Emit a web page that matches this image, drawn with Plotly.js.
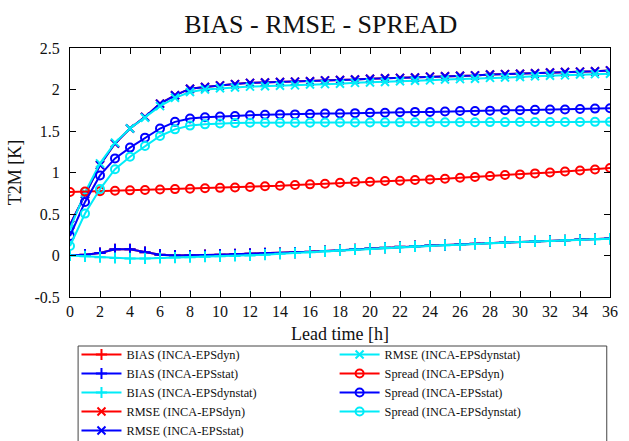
<!DOCTYPE html>
<html>
<head>
<meta charset="utf-8">
<script src="https://cdn.plot.ly/plotly-3.0.1.min.js"></script>
<style>html,body{margin:0;padding:0;background:#fff;}#chart{width:629px;height:441px;}</style>
</head>
<body>
<div id="chart"></div>
<script>
const hours = [0,1,2,3,4,5,6,7,8,9,10,11,12,13,14,15,16,17,18,19,20,21,22,23,24,25,26,27,28,29,30,31,32,33,34,35,36];

const biasStat = [0.005,0.01,0.03,0.075,0.075,0.04,0.01,0.0,0.0,0.005,0.01,0.015,0.02,0.025,0.03,0.035,0.044,0.054,0.064,0.074,0.084,0.094,0.104,0.112,0.12,0.126,0.132,0.142,0.152,0.158,0.164,0.17,0.176,0.184,0.192,0.198,0.204];
const biasDyn = [0.005,0.01,0.03,0.075,0.075,0.04,0.01,0.0,0.0,0.005,0.01,0.015,0.02,0.025,0.03,0.035,0.044,0.054,0.064,0.074,0.084,0.094,0.104,0.112,0.12,0.126,0.132,0.142,0.152,0.158,0.164,0.17,0.176,0.184,0.192,0.198,0.204];
const biasDynstat = [0.0,-0.01,-0.02,-0.03,-0.035,-0.035,-0.03,-0.025,-0.02,-0.015,-0.01,-0.005,0.0,0.01,0.02,0.03,0.04,0.05,0.062,0.072,0.082,0.092,0.102,0.11,0.118,0.125,0.131,0.14,0.15,0.157,0.163,0.169,0.175,0.183,0.19,0.197,0.203];

const rmseStat = [0.37,0.74,1.09,1.35,1.53,1.67,1.83,1.93,2.01,2.03,2.05,2.065,2.08,2.085,2.09,2.095,2.10,2.11,2.115,2.12,2.13,2.135,2.14,2.145,2.155,2.16,2.165,2.17,2.18,2.185,2.19,2.195,2.205,2.21,2.215,2.22,2.23];
const rmseDyn = [0.37,0.74,1.09,1.35,1.53,1.67,1.83,1.93,2.01,2.03,2.05,2.065,2.08,2.085,2.09,2.095,2.10,2.11,2.115,2.12,2.13,2.135,2.14,2.145,2.155,2.16,2.165,2.17,2.18,2.185,2.19,2.195,2.205,2.21,2.215,2.22,2.23];
const rmseDynstat = [0.32,0.76,1.11,1.36,1.53,1.66,1.80,1.90,1.97,2.00,2.015,2.025,2.035,2.04,2.045,2.05,2.06,2.065,2.07,2.08,2.085,2.09,2.10,2.105,2.11,2.12,2.125,2.13,2.14,2.145,2.15,2.16,2.165,2.17,2.18,2.185,2.19];

const spreadDyn = [0.765,0.77,0.775,0.78,0.785,0.79,0.795,0.80,0.805,0.81,0.815,0.82,0.825,0.835,0.84,0.85,0.857,0.865,0.877,0.885,0.889,0.897,0.90,0.91,0.917,0.925,0.937,0.945,0.957,0.97,0.977,0.989,1.0,1.013,1.025,1.037,1.054];
const spreadStat = [0.235,0.645,0.965,1.17,1.30,1.42,1.53,1.61,1.65,1.665,1.675,1.68,1.69,1.695,1.70,1.70,1.705,1.71,1.71,1.715,1.72,1.72,1.725,1.73,1.73,1.735,1.74,1.74,1.745,1.75,1.75,1.755,1.76,1.76,1.765,1.77,1.775];
const spreadDynstat = [0.115,0.505,0.80,1.04,1.19,1.32,1.44,1.52,1.565,1.58,1.59,1.595,1.60,1.60,1.60,1.60,1.60,1.602,1.602,1.603,1.603,1.604,1.604,1.605,1.605,1.605,1.606,1.606,1.607,1.607,1.608,1.608,1.608,1.609,1.609,1.61,1.61];

const xTicks = [0,2,4,6,8,10,12,14,16,18,20,22,24,26,28,30,32,34,36];
const yTicks = [-0.5,0,0.5,1,1.5,2,2.5];
const yTickLabels = ['-0.5','0','0.5','1','1.5','2','2.5'];

const RED = '#ff0000', BLUE = '#0000ff', CYAN = '#00ecf8';
const serif = '"Liberation Serif", "Times New Roman", Times, serif';

function tr(name, y, color, symbol, legendId) {
  return {
    x: hours, y: y, name: name, type: 'scatter', mode: 'lines+markers',
    line: {color: color, width: 2},
    marker: {symbol: symbol, size: 8, color: color, line: {color: color, width: 2}},
    legend: legendId
  };
}

const data = [
  tr('BIAS (INCA-EPSdyn)', biasDyn, RED, 'cross-thin-open', 'legend'),
  tr('BIAS (INCA-EPSstat)', biasStat, BLUE, 'cross-thin-open', 'legend'),
  tr('BIAS (INCA-EPSdynstat)', biasDynstat, CYAN, 'cross-thin-open', 'legend'),
  tr('RMSE (INCA-EPSdyn)', rmseDyn, RED, 'x-thin-open', 'legend'),
  tr('RMSE (INCA-EPSstat)', rmseStat, BLUE, 'x-thin-open', 'legend'),
  tr('RMSE (INCA-EPSdynstat)', rmseDynstat, CYAN, 'x-thin-open', 'legend2'),
  tr('Spread (INCA-EPSdyn)', spreadDyn, RED, 'circle-open', 'legend2'),
  tr('Spread (INCA-EPSstat)', spreadStat, BLUE, 'circle-open', 'legend2'),
  tr('Spread (INCA-EPSdynstat)', spreadDynstat, CYAN, 'circle-open', 'legend2')
];

const legendCommon = {
  orientation: 'v', xanchor: 'left', yanchor: 'top',
  xref: 'paper', yref: 'paper', y: -0.1727,
  borderwidth: 0, bgcolor: 'rgba(0,0,0,0)',
  font: {family: serif, size: 12.3, color: '#111'},
  itemwidth: 40, tracegroupgap: 0, traceorder: 'normal'
};

const layout = {
  width: 629, height: 441,
  margin: {l: 70, r: 19, t: 48, b: 144, autoexpand: false},
  paper_bgcolor: '#fff', plot_bgcolor: '#fff',
  font: {family: serif, size: 15, color: '#111'},
  title: {text: 'BIAS - RMSE - SPREAD', font: {family: serif, size: 26, color: '#111'}, x: 0.51, xref: 'container', xanchor: 'center', y: 0.946, yref: 'container', yanchor: 'middle'},
  xaxis: {
    range: [0, 36], tickvals: xTicks, ticktext: xTicks.map(String),
    ticks: 'inside', ticklen: 6, tickcolor: '#000', mirror: 'allticks',
    showline: true, linecolor: '#000', linewidth: 1, showgrid: false, zeroline: false,
    tickfont: {family: serif, size: 16, color: '#111'},
    title: {text: 'Lead time [h]', font: {family: serif, size: 18, color: '#111'}, standoff: 8}
  },
  yaxis: {
    range: [-0.5, 2.5], tickvals: yTicks, ticktext: yTickLabels,
    ticks: 'inside', ticklen: 6, tickcolor: '#000', mirror: 'allticks',
    showline: true, linecolor: '#000', linewidth: 1, showgrid: false, zeroline: false,
    tickfont: {family: serif, size: 16, color: '#111'}, ticklabelstandoff: 6,
    title: {text: 'T2M [K]', font: {family: serif, size: 18, color: '#111'}, standoff: 8}
  },
  showlegend: true,
  legend: Object.assign({}, legendCommon, {x: 0.012}),
  legend2: Object.assign({}, legendCommon, {x: 0.49}),
  shapes: [{
    type: 'rect', xref: 'paper', yref: 'paper',
    x0: 0.015, x1: 0.994, y0: -0.1968, y1: -0.62,
    line: {color: '#444', width: 1}, fillcolor: 'rgba(0,0,0,0)', layer: 'below'
  }]
};

Plotly.newPlot('chart', data, layout, {displayModeBar: false, staticPlot: true});
</script>
</body>
</html>
